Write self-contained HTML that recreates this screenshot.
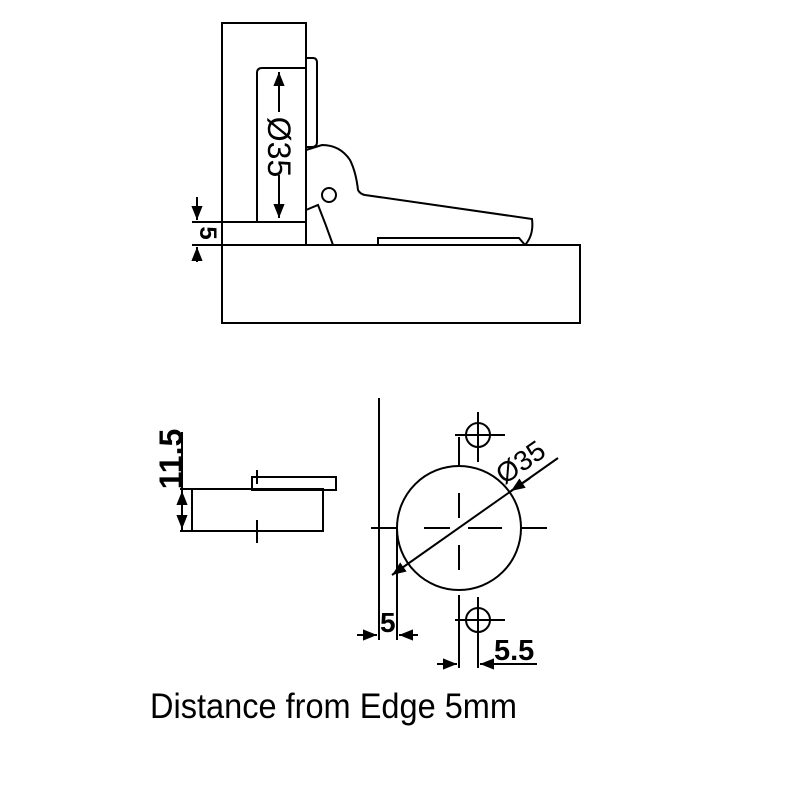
<!DOCTYPE html>
<html><head><meta charset="utf-8"><style>body{margin:0;background:#fff}svg{display:block}</style></head><body>
<svg width="800" height="800" viewBox="0 0 800 800" xmlns="http://www.w3.org/2000/svg" font-family="Liberation Sans, sans-serif">
<defs>
<marker id="a" viewBox="0 0 10 10" refX="10" refY="5" markerWidth="7" markerHeight="7" orient="auto-start-reverse"><path d="M0,1 L10,5 L0,9z" fill="#000"/></marker>
</defs>
<g fill="none" stroke="#000" stroke-width="2">
<rect x="222" y="23" width="84" height="222"/>
<line x1="192" y1="222" x2="306" y2="222"/>
<rect x="222" y="245" width="358" height="78"/>
<path d="M257,221 L257,73 Q257,68 262,68 L306,68"/>
<path d="M306,58 L313,58 Q317,58 317,63 L317,142 Q317,147 312,147 L306,147"/>
<line x1="279" y1="72" x2="279" y2="112" marker-start="url(#a)"/>
<line x1="279" y1="175" x2="279" y2="218" marker-end="url(#a)"/>
<path d="M306,150 L322,145 Q340,145 350,160 Q356,172 358,190 Q360,194 365,195 L532,219 Q534,235 525,245"/>
<path d="M378,245 L378,238 L519,238 L525,245"/>
<circle cx="329" cy="195" r="7"/>
<path d="M306,210 L318,205 Q326,225 333,245"/>
<line x1="197" y1="197" x2="197" y2="220" marker-end="url(#a)"/>
<line x1="197" y1="262" x2="197" y2="247" marker-end="url(#a)"/>
<line x1="192" y1="245" x2="222" y2="245"/>
<rect x="192" y="489" width="131" height="42"/>
<rect x="252" y="477" width="84" height="13"/>
<line x1="257" y1="470" x2="257" y2="484"/>
<line x1="257" y1="520" x2="257" y2="543"/>
<line x1="182" y1="432" x2="182" y2="531"/>
<line x1="180" y1="489" x2="192" y2="489"/>
<line x1="180" y1="531" x2="192" y2="531"/>
<line x1="182" y1="500" x2="182" y2="491" marker-end="url(#a)"/>
<line x1="182" y1="520" x2="182" y2="529" marker-end="url(#a)"/>
<line x1="379" y1="398" x2="379" y2="640"/>
<circle cx="459" cy="528" r="62"/>
<line x1="371" y1="528" x2="397" y2="528"/>
<line x1="424" y1="528" x2="450" y2="528"/>
<line x1="468" y1="528" x2="502" y2="528"/>
<line x1="520" y1="528" x2="547" y2="528"/>
<line x1="459" y1="493" x2="459" y2="518"/>
<line x1="459" y1="545" x2="459" y2="570"/>
<circle cx="478" cy="435" r="12"/>
<line x1="478" y1="412" x2="478" y2="462"/>
<line x1="455" y1="435" x2="505" y2="435"/>
<path d="M459,437 L459,465"/>
<circle cx="478" cy="620" r="12"/>
<line x1="478" y1="597" x2="478" y2="668"/>
<line x1="455" y1="620" x2="505" y2="620"/>
<line x1="459" y1="595" x2="459" y2="668"/>
<line x1="397" y1="528" x2="397" y2="640"/>
<line x1="357" y1="635" x2="377" y2="635" marker-end="url(#a)"/>
<line x1="418" y1="635" x2="399" y2="635" marker-end="url(#a)"/>
<line x1="437" y1="664" x2="457" y2="664" marker-end="url(#a)"/>
<line x1="537" y1="664" x2="480" y2="664" marker-end="url(#a)"/>
<line x1="558" y1="458" x2="392" y2="575" marker-end="url(#a)"/>
<line x1="530" y1="478" x2="511" y2="491" marker-end="url(#a)"/>
</g>
<g fill="#000">
<text transform="translate(268,147) rotate(90)" font-size="32" text-anchor="middle">Ø35</text>
<text transform="translate(200,233) rotate(90)" font-size="24" font-weight="bold" text-anchor="middle">5</text>
<text transform="translate(182,459) rotate(-90)" font-size="32" font-weight="bold" text-anchor="middle">11.5</text>
<text x="380" y="632" font-size="28" font-weight="bold">5</text>
<text x="494" y="660" font-size="29" font-weight="bold">5.5</text>
<text transform="translate(526,470) rotate(-35)" font-size="28" text-anchor="middle">Ø35</text>
<text x="150" y="718" font-size="35" textLength="367" lengthAdjust="spacingAndGlyphs">Distance from Edge 5mm</text>
</g>
</svg>
</body></html>
